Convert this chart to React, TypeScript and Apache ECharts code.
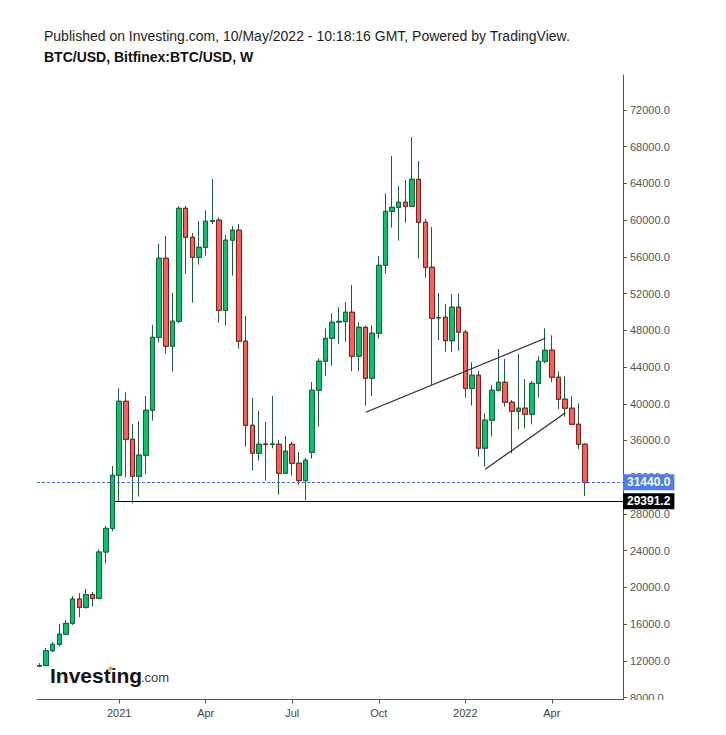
import React, { useEffect, useRef } from "react";
import * as echarts from "echarts";

const weeks = [
  "2020-10-12","2020-10-19","2020-10-26","2020-11-02","2020-11-09","2020-11-16","2020-11-23","2020-11-30","2020-12-07","2020-12-14",
  "2020-12-21","2020-12-28","2021-01-04","2021-01-11","2021-01-18","2021-01-25","2021-02-01","2021-02-08","2021-02-15","2021-02-22",
  "2021-03-01","2021-03-08","2021-03-15","2021-03-22","2021-03-29","2021-04-05","2021-04-12","2021-04-19","2021-04-26","2021-05-03",
  "2021-05-10","2021-05-17","2021-05-24","2021-05-31","2021-06-07","2021-06-14","2021-06-21","2021-06-28","2021-07-05","2021-07-12",
  "2021-07-19","2021-07-26","2021-08-02","2021-08-09","2021-08-16","2021-08-23","2021-08-30","2021-09-06","2021-09-13","2021-09-20",
  "2021-09-27","2021-10-04","2021-10-11","2021-10-18","2021-10-25","2021-11-01","2021-11-08","2021-11-15","2021-11-22","2021-11-29",
  "2021-12-06","2021-12-13","2021-12-20","2021-12-27","2022-01-03","2022-01-10","2022-01-17","2022-01-24","2022-01-31","2022-02-07",
  "2022-02-14","2022-02-21","2022-02-28","2022-03-07","2022-03-14","2022-03-21","2022-03-28","2022-04-04","2022-04-11","2022-04-18",
  "2022-04-25","2022-05-02","2022-05-09"
];

const opens = [
  11420, 11480, 13100, 13800, 14900, 16080, 18730, 17820, 19210, 18800,
  23850, 26430, 32210, 40270, 36130, 32100, 34400, 39290, 47240, 55850,
  46270, 48990, 61290, 58140, 55960, 57050, 59880, 60000, 50180, 57820,
  58910, 46820, 37660, 34610, 35620, 35560, 35590, 32430, 35590, 33520,
  31630, 34720, 41470, 44630, 47130, 48900, 48950, 49970, 45180, 48330,
  42780, 47680, 55080, 60960, 61400, 61950, 61510, 64450, 59770, 54870,
  49350, 49420, 46870, 50520, 47800, 41680, 43110, 35160, 38210, 41470,
  42340, 40170, 39190, 39520, 38860, 42230, 44630, 45830, 42890, 40500,
  39520, 37770, 35590
];

const closes = [
  11480, 13100, 13800, 14900, 16080, 18730, 17820, 19210, 18780, 23850,
  26430, 32210, 40270, 36130, 32100, 34400, 39290, 47240, 55850, 46270,
  48990, 61290, 58140, 55960, 57050, 59880, 59960, 50180, 57820, 58910,
  46820, 37660, 34610, 35590, 35560, 35620, 32430, 34830, 33520, 31630,
  33850, 41470, 44630, 47130, 48880, 48980, 49970, 45180, 48330, 42780,
  47680, 55080, 60960, 61400, 61950, 61510, 64450, 59770, 54870, 49320,
  49400, 46870, 50520, 47800, 41680, 43110, 35160, 38210, 41470, 42340,
  40170, 39190, 39520, 38860, 42230, 44630, 45830, 42890, 40500, 39520,
  37770, 35590, 31440
];

const lows = [
  11380, 11420, 12950, 13550, 14800, 15900, 16750, 17680, 17900, 18700,
  22620, 26100, 29330, 32000, 29150, 29880, 32350, 38170, 46660, 45460,
  43500, 48800, 54170, 51010, 55150, 56140, 59560, 48830, 48540, 53950,
  46000, 35330, 32720, 33800, 31620, 35150, 30100, 32350, 32170, 31190,
  29520, 34030, 37510, 43000, 44150, 46490, 46770, 43540, 43540, 39800,
  40850, 47090, 54170, 59190, 57770, 59730, 61510, 55810, 53740, 42050,
  46950, 45670, 45670, 45780, 40670, 39800, 34240, 33160, 36420, 41330,
  39690, 34610, 37220, 37330, 37770, 40710, 44420, 42340, 39410, 38600,
  37700, 35050, 29950
];

const highs = [
  11750, 13400, 14050, 16000, 16440, 19060, 19360, 19830, 19500, 24140,
  26680, 33220, 41690, 41250, 37770, 38120, 40850, 48580, 57400, 58270,
  52070, 61500, 61540, 58600, 59910, 61070, 64480, 60310, 58380, 59360,
  59580, 49560, 40630, 39210, 38010, 40850, 36050, 36490, 35840, 34750,
  34090, 42370, 44920, 48220, 49860, 50510, 51090, 52940, 48880, 48510,
  48550, 56100, 62930, 66990, 63720, 64370, 69060, 66440, 60130, 59270,
  52070, 50870, 51960, 52030, 48040, 44520, 43600, 38970, 42020, 45970,
  44880, 40410, 45420, 42700, 42480, 45180, 48220, 47460, 43540, 43000,
  40820, 40050, 35700
];

const tickWeeks = ["2021-01-04", "2021-04-05", "2021-07-05", "2021-10-04", "2022-01-03", "2022-04-04"];
const tickLabels = ["2021", "Apr", "Jul", "Oct", "2022", "Apr"];
const priceTicks = [8000, 12000, 16000, 20000, 24000, 28000, 32000, 36000, 40000, 44000, 48000, 52000, 56000, 60000, 64000, 68000, 72000];

const lastPrice = 31440;
const supportLevel = 29391.2;
// trend lines: [week index, price] pairs
const upperTrend = [[49.05, 39070], [76.03, 47130]];
const lowerTrend = [[67.0, 32860], [79.04, 39030]];
const supportStart = 11.37;

const FONT = "'Liberation Sans', Arial, sans-serif";

export default function App() {
  const ref = useRef<HTMLDivElement>(null);
  useEffect(() => {
    const chart = echarts.init(ref.current!, null, { renderer: "svg" });
    const xMin = -0.35;
    const xMax = 87.7;
    const tickIdx = tickWeeks.map((w) => weeks.indexOf(w));

    const full = weeks.map((_, i) => [i, opens[i], closes[i], lows[i], highs[i]]);
    const bodies = weeks.map((_, i) => [
      i,
      opens[i],
      closes[i],
      Math.min(opens[i], closes[i]),
      Math.max(opens[i], closes[i]),
    ]);

    const option: any = {
      animation: false,
      backgroundColor: "#ffffff",
      title: [
        {
          text: "Published on Investing.com, 10/May/2022 - 10:18:16 GMT, Powered by TradingView.",
          left: 44,
          top: 29,
          padding: 0,
          textStyle: { fontSize: 14, fontWeight: "normal", color: "#1e1e1e", fontFamily: FONT },
        },
        {
          text: "BTC/USD, Bitfinex:BTC/USD, W",
          left: 44,
          top: 50,
          padding: 0,
          textStyle: { fontSize: 14, fontWeight: "bold", color: "#111", fontFamily: FONT },
        },
      ],
      grid: { left: 37, right: 103, top: 75, bottom: 35.5, containLabel: false },
      xAxis: {
        type: "value",
        min: xMin,
        max: xMax,
        axisLine: { show: true, onZero: false, lineStyle: { color: "#555", width: 1 } },
        axisTick: { show: true, customValues: tickIdx, length: 4, lineStyle: { color: "#555" } },
        axisLabel: {
          show: true,
          customValues: tickIdx,
          formatter: (v: number) => tickLabels[tickIdx.indexOf(v)] ?? "",
          color: "#444",
          fontSize: 11,
          fontFamily: FONT,
          margin: 8,
        },
        splitLine: { show: false },
      },
      yAxis: {
        type: "value",
        position: "right",
        min: 7786,
        max: 75813,
        axisLine: { show: true, onZero: false, lineStyle: { color: "#555", width: 1 } },
        axisTick: { show: true, customValues: priceTicks, length: 4, lineStyle: { color: "#555" } },
        axisLabel: {
          show: true,
          customValues: priceTicks,
          formatter: (v: number) => v.toFixed(1),
          color: "#555",
          fontSize: 11,
          fontFamily: FONT,
          margin: 7,
        },
        splitLine: { show: false },
      },
      series: [
        {
          name: "wicks",
          type: "candlestick",
          data: full,
          encode: { x: 0, y: [1, 2, 3, 4] },
          barWidth: 5,
          z: 2,
          itemStyle: {
            color: "transparent",
            color0: "transparent",
            borderColor: "#1e5c3b",
            borderColor0: "#1e5c3b",
            borderWidth: 1,
          },
          markLine: {
            silent: true,
            symbol: ["none", "none"],
            label: { show: false },
            lineStyle: { color: "#2a2a2a", width: 1.2, type: "solid" },
            data: [
              [{ coord: upperTrend[0] }, { coord: upperTrend[1] }],
              [{ coord: lowerTrend[0] }, { coord: lowerTrend[1] }],
            ],
          },
        },
        {
          name: "BTC/USD",
          type: "candlestick",
          data: bodies,
          encode: { x: 0, y: [1, 2, 3, 4] },
          barWidth: 5,
          z: 3,
          itemStyle: {
            color: "#05c46d",
            color0: "#fa5f5a",
            borderColor: "#17613b",
            borderColor0: "#7d1d1d",
            borderWidth: 1,
          },
          markLine: {
            silent: true,
            symbol: ["none", "none"],
            data: [
              {
                yAxis: lastPrice,
                lineStyle: { color: "#3a6df0", width: 1, type: [3, 2] },
                label: {
                  show: true,
                  position: "end",
                  distance: 0,
                  formatter: lastPrice.toFixed(1),
                  color: "#fff",
                  fontWeight: "bold",
                  fontSize: 12,
                  fontFamily: FONT,
                  backgroundColor: "#4c7df0",
                  padding: [2, 4, 2, 4],
                },
              },
              [
                {
                  coord: [supportStart, supportLevel],
                  lineStyle: { color: "#000", width: 1, type: "solid" },
                  label: {
                    show: true,
                    position: "end",
                    distance: 0,
                    formatter: supportLevel.toFixed(1),
                    color: "#fff",
                    fontWeight: "bold",
                    fontSize: 12,
                    fontFamily: FONT,
                    backgroundColor: "#000",
                    padding: [2, 4, 2, 4],
                  },
                },
                { coord: [xMax, supportLevel] },
              ],
            ],
          },
        },
      ],
      graphic: [
        {
          type: "rect",
          z: 100,
          shape: { x: 624, y: 700, width: 102, height: 12 },
          style: { fill: "#fff" },
        },
        {
          type: "text",
          z: 100,
          x: 50,
          y: 675,
          style: {
            text: "Investing",
            fontSize: 21,
            fontWeight: "bold",
            fontFamily: FONT,
            fill: "#141414",
            verticalAlign: "middle",
          },
        },
        {
          type: "text",
          z: 100,
          x: 141,
          y: 677.5,
          style: {
            text: ".com",
            fontSize: 13,
            fontFamily: FONT,
            fill: "#3a3a3a",
            verticalAlign: "middle",
          },
        },
        {
          type: "circle",
          z: 101,
          shape: { cx: 110.5, cy: 668.5, r: 2 },
          style: { fill: "#f39c1f" },
        },
      ],
    };
    chart.setOption(option);
    return () => chart.dispose();
  }, []);
  return (
    <div
      ref={ref}
      style={{ position: "fixed", left: 0, top: 0, width: 726, height: 735, background: "#fff" }}
    />
  );
}
